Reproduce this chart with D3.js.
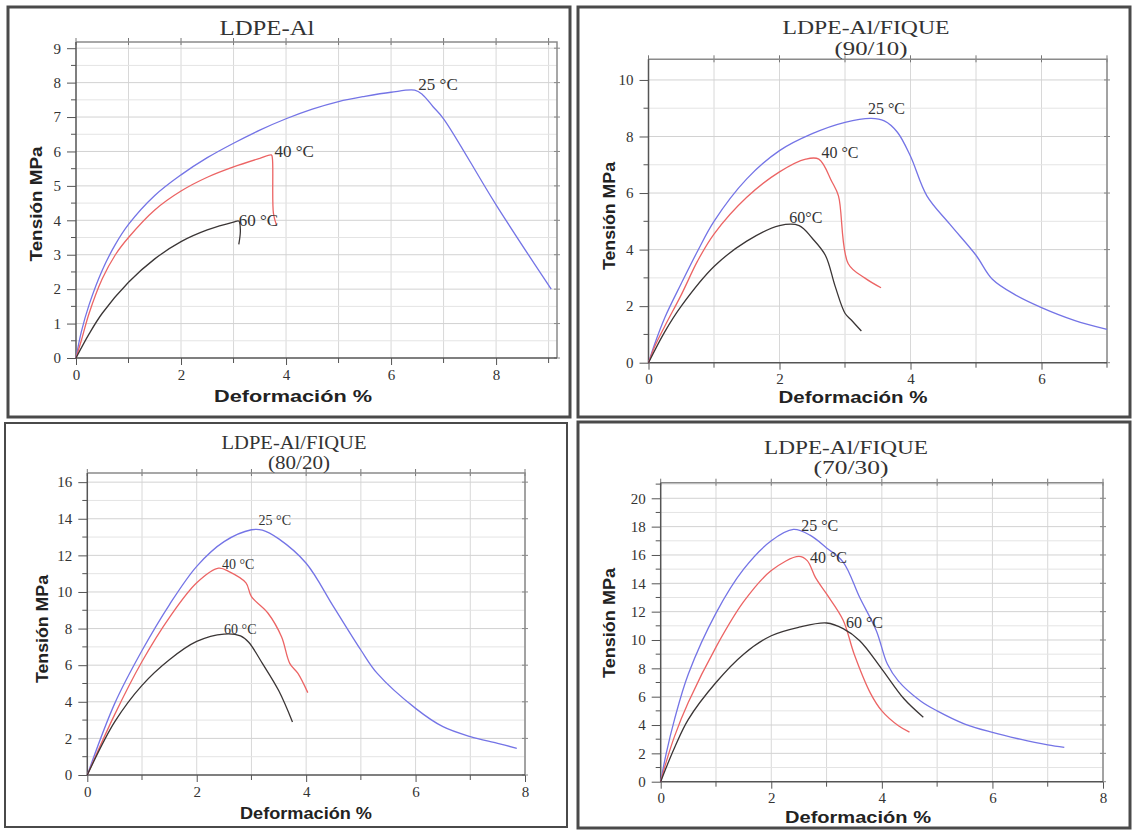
<!DOCTYPE html>
<html>
<head>
<meta charset="utf-8">
<script src="https://cdn.jsdelivr.net/npm/d3@7"></script>
<style>
  body { margin: 0; background: #fff; }
  svg { display: block; }
</style>
</head>
<body>
<div id="chart"></div>
<script>
// curves: [deformation %, tension MPa]
const al25 = [[0,0],[0.1,0.75],[0.25,1.55],[0.5,2.55],[0.75,3.3],[1,3.88],[1.5,4.72],[2,5.32],[2.5,5.82],[3,6.24],[3.5,6.62],[4,6.95],[4.5,7.23],[5,7.45],[5.5,7.6],[6,7.72],[6.45,7.78],[6.6,7.65],[6.8,7.3],[7,6.95],[8,4.45],[9.05,2.0]];
const al40 = [[0,0],[0.1,0.5],[0.25,1.3],[0.5,2.3],[0.75,3.0],[1,3.5],[1.5,4.3],[2,4.85],[2.5,5.25],[3,5.55],[3.5,5.8],[3.72,5.9],[3.74,5.8],[3.76,4.2],[3.82,3.85]];
const al60 = [[0,0],[0.25,0.7],[0.5,1.3],[1,2.2],[1.5,2.88],[2,3.38],[2.5,3.72],[3,3.95],[3.1,3.98],[3.13,3.7],[3.1,3.3]];

const f90_25 = [[0,0],[0.1,0.7],[0.25,1.6],[0.5,2.8],[0.75,3.95],[1,5.0],[1.5,6.5],[2,7.5],[2.5,8.1],[3,8.5],[3.4,8.64],[3.6,8.55],[3.8,8.15],[4,7.3],[4.25,5.9],[4.6,4.9],[5,3.8],[5.25,2.95],[5.6,2.4],[6,1.95],[6.5,1.5],[7,1.18]];
const f90_40 = [[0,0],[0.1,0.6],[0.25,1.3],[0.5,2.4],[0.75,3.6],[1,4.55],[1.5,5.85],[2,6.75],[2.4,7.2],[2.6,7.2],[2.8,6.4],[2.9,5.9],[3.05,3.5],[3.3,3.0],[3.55,2.65]];
const f90_60 = [[0,0],[0.25,1.1],[0.5,2.0],[1,3.4],[1.5,4.3],[2,4.85],[2.3,4.85],[2.5,4.4],[2.7,3.8],[2.85,2.7],[3,1.75],[3.1,1.5],[3.25,1.12]];

const f80_25 = [[0,0],[0.5,3.9],[1,6.8],[1.5,9.3],[2,11.4],[2.5,12.75],[3,13.4],[3.2,13.38],[3.5,12.9],[4,11.57],[4.5,9.2],[5,6.83],[5.3,5.55],[6,3.64],[6.5,2.64],[7,2.1],[7.5,1.73],[7.85,1.46]];
const f80_40 = [[0,0],[0.5,3.3],[1,6.2],[1.5,8.6],[2,10.5],[2.4,11.3],[2.6,11.1],[2.9,10.5],[3,9.75],[3.3,8.85],[3.55,7.55],[3.7,6.1],[3.85,5.55],[4.03,4.5]];
const f80_60 = [[0,0],[0.5,2.9],[1,4.9],[1.5,6.3],[2,7.3],[2.5,7.7],[2.8,7.6],[2.95,7.25],[3.2,6.1],[3.5,4.6],[3.75,2.9]];

const f70_25 = [[0,0],[0.1,2.0],[0.25,4.4],[0.5,7.6],[1,11.9],[1.5,15.0],[2,17.0],[2.4,17.8],[2.7,17.4],[3,16.5],[3.3,15.5],[3.6,13.0],[3.9,10.66],[4.1,8.3],[4.3,7.1],[4.7,5.7],[5,5.0],[5.5,4.07],[6,3.48],[6.5,3.0],[7,2.6],[7.3,2.42]];
const f70_40 = [[0,0],[0.1,1.4],[0.25,3.2],[0.5,5.6],[1,9.5],[1.5,12.7],[2,14.9],[2.5,15.9],[2.65,15.6],[2.8,14.4],[3,13.25],[3.3,11.4],[3.5,9.0],[3.8,6.2],[4,5.0],[4.3,3.95],[4.5,3.5]];
const f70_60 = [[0,0],[0.1,1.0],[0.25,2.4],[0.5,4.4],[1,7.0],[1.5,9.0],[2,10.3],[2.5,10.9],[3,11.2],[3.3,10.8],[3.6,9.95],[4,7.95],[4.4,5.85],[4.75,4.55]];

const tempLabels = ['25 °C', '40 °C', '60 °C'];
const tempLabels90 = ['25 °C', '40 °C', '60°C'];
const titles = [['LDPE-Al'], ['LDPE-Al/FIQUE', '(90/10)'], ['LDPE-Al/FIQUE', '(80/20)'], ['LDPE-Al/FIQUE', '(70/30)']];
const xTicks = [[0, 2, 4, 6, 8], [0, 2, 4, 6], [0, 2, 4, 6, 8], [0, 2, 4, 6, 8]];
const yTicks = [[0, 1, 2, 3, 4, 5, 6, 7, 8, 9], [0, 2, 4, 6, 8, 10], [0, 2, 4, 6, 8, 10, 12, 14, 16], [0, 2, 4, 6, 8, 10, 12, 14, 16, 18, 20]];
const xLabel = 'Deformación %';
const yLabel = 'Tensión MPa';

const colors = ['#7474e6', '#ec6464', '#3a3535'];

// layout of each panel as in the picture
const panels = [
    { frame: [8, 7, 570, 417], fw: 3, plot: [76, 42, 557, 358], xMax: 9.16, yMax: 9.18, yMinor: 0.5,
      series: [al25, al40, al60], labels: tempLabels,
      labelAt: [[6.52, 7.95], [3.78, 6.0], [3.1, 4.0]], labelSize: 17,
      title: [[267, 27, 95]], titleSize: 22, xl: [293, 396, 158], yl: [36, 204, 115] },
    { frame: [578, 7, 1130, 417], fw: 3, plot: [648.5, 59.3, 1107, 362.7], xMax: 7, yMax: 10.73, yMinor: 1,
      series: [f90_25, f90_40, f90_60], labels: tempLabels90,
      labelAt: [[3.35, 9.0], [2.64, 7.45], [2.15, 5.15]], labelSize: 16,
      title: [[866, 27, 167], [871, 48, 73]], titleSize: 19, xl: [853, 397, 149], yl: [609, 216, 108] },
    { frame: [5, 423, 567, 827], fw: 2, plot: [87.3, 473, 525, 775], xMax: 8, yMax: 16.5, yMinor: 1,
      series: [f80_25, f80_40, f80_60], labels: tempLabels,
      labelAt: [[3.13, 13.95], [2.46, 11.5], [2.5, 7.95]], labelSize: 14,
      title: [[294, 443, 145], [299, 463, 62]], titleSize: 18, xl: [306, 813, 132], yl: [42, 629, 108] },
    { frame: [578, 422, 1130, 828], fw: 3, plot: [660.7, 482.7, 1103, 781.7], xMax: 8, yMax: 21.1, yMinor: 1,
      series: [f70_25, f70_40, f70_60], labels: tempLabels,
      labelAt: [[2.54, 18.1], [2.7, 15.8], [3.35, 11.25]], labelSize: 16,
      title: [[846, 447, 164], [851, 467, 75]], titleSize: 19, xl: [858, 817, 146], yl: [609, 623, 110] }
];

const svg = d3.select('#chart')
    .append('svg')
    .attr('width', 1133)
    .attr('height', 830)
    .style('font-family', '"Liberation Serif", "Times New Roman", serif');

svg.append('rect').attr('width', 1133).attr('height', 830).attr('fill', '#fff');

panels.forEach((p, i) => {
    const [fx0, fy0, fx1, fy1] = p.frame;
    svg.append('rect')
        .attr('x', fx0).attr('y', fy0)
        .attr('width', fx1 - fx0).attr('height', fy1 - fy0)
        .attr('fill', 'none')
        .attr('stroke', '#4a4a4a')
        .attr('stroke-width', p.fw);

    const [px0, py0, px1, py1] = p.plot;
    const x = d3.scaleLinear().domain([0, p.xMax]).range([px0, px1]);
    const y = d3.scaleLinear().domain([0, p.yMax]).range([py1, py0]);
    const g = svg.append('g');

    // grid
    const xGrid = d3.range(1, Math.floor(p.xMax) + 1);
    g.selectAll('.vgrid').data(xGrid).join('line')
        .attr('x1', d => x(d)).attr('x2', d => x(d))
        .attr('y1', py0).attr('y2', py1)
        .attr('stroke', '#d8d8d8').attr('stroke-width', 1);
    const yGrid = d3.range(p.yMinor, p.yMax, p.yMinor);
    g.selectAll('.hgrid').data(yGrid).join('line')
        .attr('x1', px0).attr('x2', px1)
        .attr('y1', d => y(d)).attr('y2', d => y(d))
        .attr('stroke', d => yTicks[i].includes(d) ? '#d2d2d2' : '#e4e4e4')
        .attr('stroke-width', 1);

    // axes: bottom and left with labels
    const bottom = d3.axisBottom(x).tickValues(xTicks[i]).tickSize(7).tickFormat(d3.format('d'));
    const bAxis = g.append('g').attr('transform', `translate(0,${ py1 })`).call(bottom);
    bAxis.select('.domain').remove();
    const left = d3.axisLeft(y).tickValues(yTicks[i]).tickSize(9).tickFormat(d3.format('d'));
    const lAxis = g.append('g').attr('transform', `translate(${ px0 },0)`).call(left);
    lAxis.select('.domain').remove();
    [bAxis, lAxis].forEach(a => {
        a.selectAll('line').attr('stroke', '#555');
        a.selectAll('text')
            .attr('fill', '#333')
            .style('font-family', '"Liberation Serif", serif')
            .style('font-size', '15px');
    });
    bAxis.selectAll('text').attr('y', 11);
    lAxis.selectAll('text').attr('x', -15);

    // minor ticks
    const xMinor = xGrid.filter(d => !xTicks[i].includes(d));
    g.selectAll('.xminor').data(xMinor).join('line')
        .attr('x1', d => x(d)).attr('x2', d => x(d))
        .attr('y1', py1).attr('y2', py1 + 5)
        .attr('stroke', '#555');
    g.selectAll('.topt').data(xGrid.concat([0])).join('line')
        .attr('x1', d => x(d)).attr('x2', d => x(d))
        .attr('y1', py0 - 4).attr('y2', py0 + 3)
        .attr('stroke', '#777');
    const yMinorT = yGrid.filter(d => !yTicks[i].includes(d));
    g.selectAll('.yminor').data(yMinorT).join('line')
        .attr('x1', px0 - 5).attr('x2', px0)
        .attr('y1', d => y(d)).attr('y2', d => y(d))
        .attr('stroke', '#555');
    g.selectAll('.rightt').data(yTicks[i]).join('line')
        .attr('x1', px1 - 3).attr('x2', px1 + 3)
        .attr('y1', d => y(d)).attr('y2', d => y(d))
        .attr('stroke', '#888');

    // plot border
    g.append('path')
        .attr('d', `M${ px0 },${ py0 }H${ px1 }V${ py1 }`)
        .attr('fill', 'none').attr('stroke', '#8a8a8a').attr('stroke-width', 1.5);
    g.append('path')
        .attr('d', `M${ px0 },${ py0 }V${ py1 }H${ px1 }`)
        .attr('fill', 'none').attr('stroke', '#555').attr('stroke-width', 1.5);

    // curves
    const line = d3.line()
        .x(d => x(d[0]))
        .y(d => y(d[1]))
        .curve(d3.curveCatmullRom.alpha(0.5));
    p.series.forEach((s, k) => {
        g.append('path')
            .datum(s)
            .attr('d', line)
            .attr('fill', 'none')
            .attr('stroke', colors[k])
            .attr('stroke-width', 1.3);
    });

    // curve labels
    g.selectAll('.tlabel').data(p.labelAt).join('text')
        .attr('x', d => x(d[0]))
        .attr('y', d => y(d[1]))
        .attr('dy', '0.35em')
        .attr('fill', '#333')
        .style('font-size', p.labelSize + 'px')
        .text((d, k) => p.labels[k]);

    // titles
    p.title.forEach((t, k) => {
        g.append('text')
            .attr('x', t[0]).attr('y', t[1])
            .attr('dy', '0.35em')
            .attr('text-anchor', 'middle')
            .attr('textLength', t[2])
            .attr('lengthAdjust', 'spacingAndGlyphs')
            .attr('fill', '#333')
            .style('font-size', p.titleSize + 'px')
            .text(titles[i][k]);
    });

    // axis titles
    g.append('text')
        .attr('x', p.xl[0]).attr('y', p.xl[1])
        .attr('dy', '0.35em')
        .attr('text-anchor', 'middle')
        .attr('textLength', p.xl[2])
        .attr('lengthAdjust', 'spacingAndGlyphs')
        .attr('fill', '#222')
        .style('font-family', '"Liberation Sans", Arial, sans-serif')
        .style('font-weight', 'bold')
        .style('font-size', '17px')
        .text(xLabel);
    g.append('text')
        .attr('transform', `translate(${ p.yl[0] },${ p.yl[1] }) rotate(-90)`)
        .attr('dy', '0.35em')
        .attr('text-anchor', 'middle')
        .attr('textLength', p.yl[2])
        .attr('lengthAdjust', 'spacingAndGlyphs')
        .attr('fill', '#222')
        .style('font-family', '"Liberation Sans", Arial, sans-serif')
        .style('font-weight', 'bold')
        .style('font-size', '17px')
        .text(yLabel);
});
</script>
</body>
</html>
